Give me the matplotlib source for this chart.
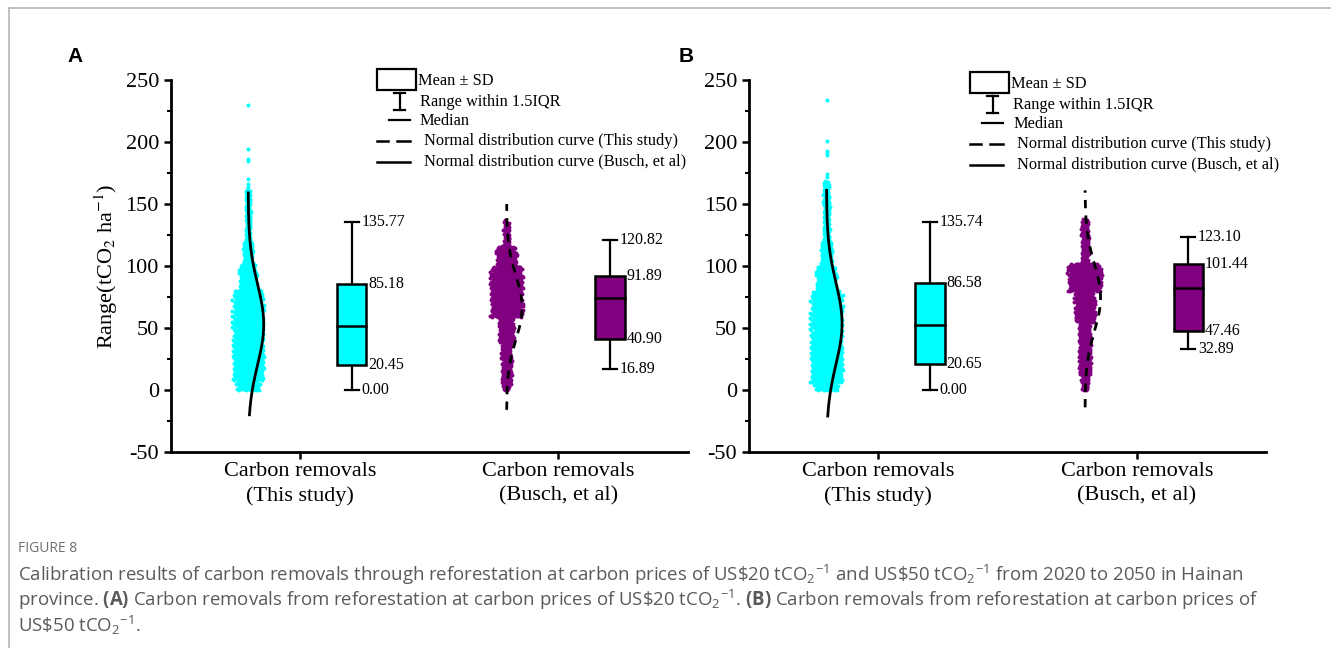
import numpy as np
import matplotlib
matplotlib.use('Agg')
import matplotlib.pyplot as plt
from matplotlib.patches import Rectangle
from matplotlib.lines import Line2D

W, H = 1331, 648

plt.rcParams['font.family'] = 'Liberation Serif'
plt.rcParams['axes.unicode_minus'] = False
plt.rcParams['mathtext.fontset'] = 'custom'
plt.rcParams['mathtext.rm'] = 'Open Sans'
plt.rcParams['mathtext.it'] = 'Open Sans:italic'
plt.rcParams['mathtext.bf'] = 'Open Sans:bold'

categories = ['Carbon removals\n(This study)', 'Carbon removals\n(Busch, et al)']
colors = ['#00FFFF', '#800080']

# box statistics, order: [This study, Busch et al]
# panel A (US$20)
box_lo_a = [20.45, 40.90]      # mean - SD
box_hi_a = [85.18, 91.89]      # mean + SD
median_a = [51.6, 73.8]
whis_lo_a = [0.00, 16.89]
whis_hi_a = [135.77, 120.82]
# panel B (US$50)
box_lo_b = [20.65, 47.46]
box_hi_b = [86.58, 101.44]
median_b = [52.3, 82.0]
whis_lo_b = [0.00, 32.89]
whis_hi_b = [135.74, 123.10]

# point clouds: band edges and number of points per band
edges_a1 = [0, 8, 81, 102, 120, 162]
counts_a1 = [75, 895, 145, 73, 86]
single_a1 = [164, 166, 170, 184.5, 186.5, 194.5, 229.5]
edges_a2 = [0, 5, 38, 59, 100, 116, 137]
counts_a2 = [15, 134, 130, 537, 130, 51]
single_a2 = []
edges_b1 = [0, 6, 80, 100, 120, 169]
counts_b1 = [62, 1021, 178, 99, 130]
single_b1 = [172, 174, 189.5, 191, 192.5, 200.5, 234]
edges_b2 = [0, 13, 55, 80, 102, 138]
counts_b2 = [40, 224, 222, 323, 112]
single_b2 = []

# vertical extent of the drawn normal curves
curve_a = [(-20, 159), (-16, 150)]
curve_b = [(-21, 161), (-14, 161)]

UNIT_PX = 258.4     # pixels per category step
DENS = 0.33         # points per square pixel in the clouds
BOX_W = 0.115
CAP_W = 0.054
AMP = 0.06


def fx(x):
    return x / W


def fy(y):
    return 1 - y / H


def cloud(edges, counts, singles, px_per_unit):
    xs, ys = [], []
    for lo, hi, n in zip(edges[:-1], edges[1:], counts):
        h_px = (hi - lo) * px_per_unit
        half = n / (DENS * h_px) / 2 / UNIT_PX
        k = np.arange(n)
        ys.append(lo + ((k * 0.5698402910 + 0.5) % 1) * (hi - lo))
        rough = 0.8 + 0.3 * ((k * 0.381966 + 0.2) % 1)   # ragged cloud edge
        xs.append(half * rough * (2 * ((k * 0.7548776662 + 0.5) % 1) - 1))
    xs.append(np.zeros(len(singles)))
    ys.append(np.array(singles, dtype=float))
    return np.concatenate(xs), np.concatenate(ys)


def draw_panel(ax, clouds, box_lo, box_hi, med, wlo, whi, curves, ylim, px_per_unit):
    for i in range(2):
        c = i + 1
        xs, ys = cloud(*clouds[i], px_per_unit)
        ax.scatter(c - 0.2 + xs, ys, s=8, color=colors[i], linewidths=0, zorder=2)

        mean = (box_lo[i] + box_hi[i]) / 2
        sd = (box_hi[i] - box_lo[i]) / 2
        yy = np.linspace(curves[i][0], curves[i][1], 300)
        xx = c - 0.2 + AMP * np.exp(-0.5 * ((yy - mean) / sd) ** 2)
        if i == 0:
            ax.plot(xx, yy, color='black', lw=2, zorder=3)
        else:
            ax.plot(xx, yy, color='black', lw=2, ls=(0, (3, 2.6)), zorder=3)

        bx = c + 0.2
        ax.add_patch(Rectangle((bx - BOX_W / 2, box_lo[i]), BOX_W, box_hi[i] - box_lo[i],
                               facecolor=colors[i], edgecolor='black', lw=1.8, zorder=3))
        ax.plot([bx - BOX_W / 2, bx + BOX_W / 2], [med[i], med[i]], color='black', lw=1.8, zorder=4)
        ax.plot([bx, bx], [wlo[i], box_lo[i]], color='black', lw=1.6, zorder=2)
        ax.plot([bx, bx], [box_hi[i], whi[i]], color='black', lw=1.6, zorder=2)
        for v in (wlo[i], whi[i]):
            ax.plot([bx - CAP_W / 2, bx + CAP_W / 2], [v, v], color='black', lw=1.6, zorder=2)
            ax.text(bx + 0.037, v, f'{v:.2f}', fontsize=11.5, ha='left', va='center')
        for v in (box_lo[i], box_hi[i]):
            ax.text(bx + BOX_W / 2 + 0.006, v, f'{v:.2f}', fontsize=11.5, ha='left', va='center')

    ax.set_xlim(0.5, 2.5)
    ax.set_ylim(*ylim)
    ax.set_xticks([1, 2])
    ax.set_xticklabels(categories, fontsize=16, linespacing=1.35)
    ax.set_yticks(np.arange(-50, 251, 50))
    ax.set_yticks(np.arange(-25, 251, 50), minor=True)
    ax.tick_params(axis='y', labelsize=16, length=5, width=1.8, direction='out')
    ax.tick_params(axis='y', which='minor', length=3, width=1.5)
    ax.tick_params(axis='x', length=5, width=1.8, direction='out', pad=2.5)
    for s in ('top', 'right'):
        ax.spines[s].set_visible(False)
    for s in ('left', 'bottom'):
        ax.spines[s].set_linewidth(2)


def draw_legend(fig, x0, y0):
    # x0, y0: top-left corner of the box symbol in pixels
    fig.add_artist(Rectangle((fx(x0), fy(y0 + 21)), 39 / W, 21 / H, transform=fig.transFigure,
                             fill=False, edgecolor='black', lw=1.6))
    wx = x0 + 22.5
    fig.add_artist(Line2D([fx(wx), fx(wx)], [fy(y0 + 24), fy(y0 + 41)], transform=fig.transFigure, color='black', lw=1.6))
    for yy in (y0 + 24, y0 + 41):
        fig.add_artist(Line2D([fx(wx - 5.5), fx(wx + 5.5)], [fy(yy), fy(yy)], transform=fig.transFigure, color='black', lw=1.6))
    fig.add_artist(Line2D([fx(x0 + 12), fx(x0 + 33)], [fy(y0 + 51), fy(y0 + 51)], transform=fig.transFigure, color='black', lw=1.6))
    fig.add_artist(Line2D([fx(x0), fx(x0 + 11)], [fy(y0 + 72), fy(y0 + 72)], transform=fig.transFigure, color='black', lw=1.8))
    fig.add_artist(Line2D([fx(x0 + 20), fx(x0 + 33)], [fy(y0 + 72), fy(y0 + 72)], transform=fig.transFigure, color='black', lw=1.8))
    fig.add_artist(Line2D([fx(x0), fx(x0 + 33)], [fy(y0 + 92.7), fy(y0 + 92.7)], transform=fig.transFigure, color='black', lw=1.8))
    labels = [('Mean ± SD', 41, 11.7), ('Range within 1.5IQR', 43, 32.7), ('Median', 43, 51.7),
              ('Normal distribution curve (This study)', 47, 72),
              ('Normal distribution curve (Busch, et al)', 47, 92.7)]
    for txt, dx, dy in labels:
        fig.text(fx(x0 + dx), fy(y0 + dy), txt, fontsize=11.8, ha='left', va='center')


fig = plt.figure(figsize=(W / 100, H / 100), dpi=100)

ax_a = fig.add_axes([170.7 / W, 1 - 452 / H, 516.8 / W, 372 / H])
draw_panel(ax_a, [(edges_a1, counts_a1, single_a1), (edges_a2, counts_a2, single_a2)],
           box_lo_a, box_hi_a, median_a, whis_lo_a, whis_hi_a, curve_a, (-50, 250), 372 / 300)
ax_a.set_ylabel(r'Range(tCO$_2$ ha$^{-1}$)', fontsize=16, math_fontfamily='stix')

ax_b = fig.add_axes([749 / W, 1 - 452 / H, 517 / W, 372 / H])
draw_panel(ax_b, [(edges_b1, counts_b1, single_b1), (edges_b2, counts_b2, single_b2)],
           box_lo_b, box_hi_b, median_b, whis_lo_b, whis_hi_b, curve_b, (-25, 250), 372 / 275)

draw_legend(fig, 377, 69)
draw_legend(fig, 970, 72)

fig.text(fx(75), fy(57), 'A', fontsize=15, fontweight='bold', family='Liberation Sans', ha='center', va='center')
fig.text(fx(686), fy(57), 'B', fontsize=15, fontweight='bold', family='Liberation Sans', ha='center', va='center')

# page frame lines
fig.add_artist(Line2D([fx(9), 1], [fy(8), fy(8)], transform=fig.transFigure, color='#b5b5b5', lw=1.2))
fig.add_artist(Line2D([fx(9), fx(9)], [fy(8), 0], transform=fig.transFigure, color='#b5b5b5', lw=1.2))

# caption
fig.text(fx(18), fy(549), 'FIGURE 8', fontsize=10, color='#707070', family='Open Sans', va='center')
cap_lines = [
    r'Calibration results of carbon removals through reforestation at carbon prices of US\$20 tCO$_2$$^{-1}$ and US\$50 tCO$_2$$^{-1}$ from 2020 to 2050 in Hainan',
    r'province. $\mathbf{(A)}$ Carbon removals from reforestation at carbon prices of US\$20 tCO$_2$$^{-1}$. $\mathbf{(B)}$ Carbon removals from reforestation at carbon prices of',
    r'US\$50 tCO$_2$$^{-1}$.',
]
for i, line in enumerate(cap_lines):
    fig.text(fx(18), fy(575 + 25 * i), line, fontsize=13.4, color='#5a5a5a', family='Open Sans', va='center')

fig.savefig('out.png', dpi=100)
